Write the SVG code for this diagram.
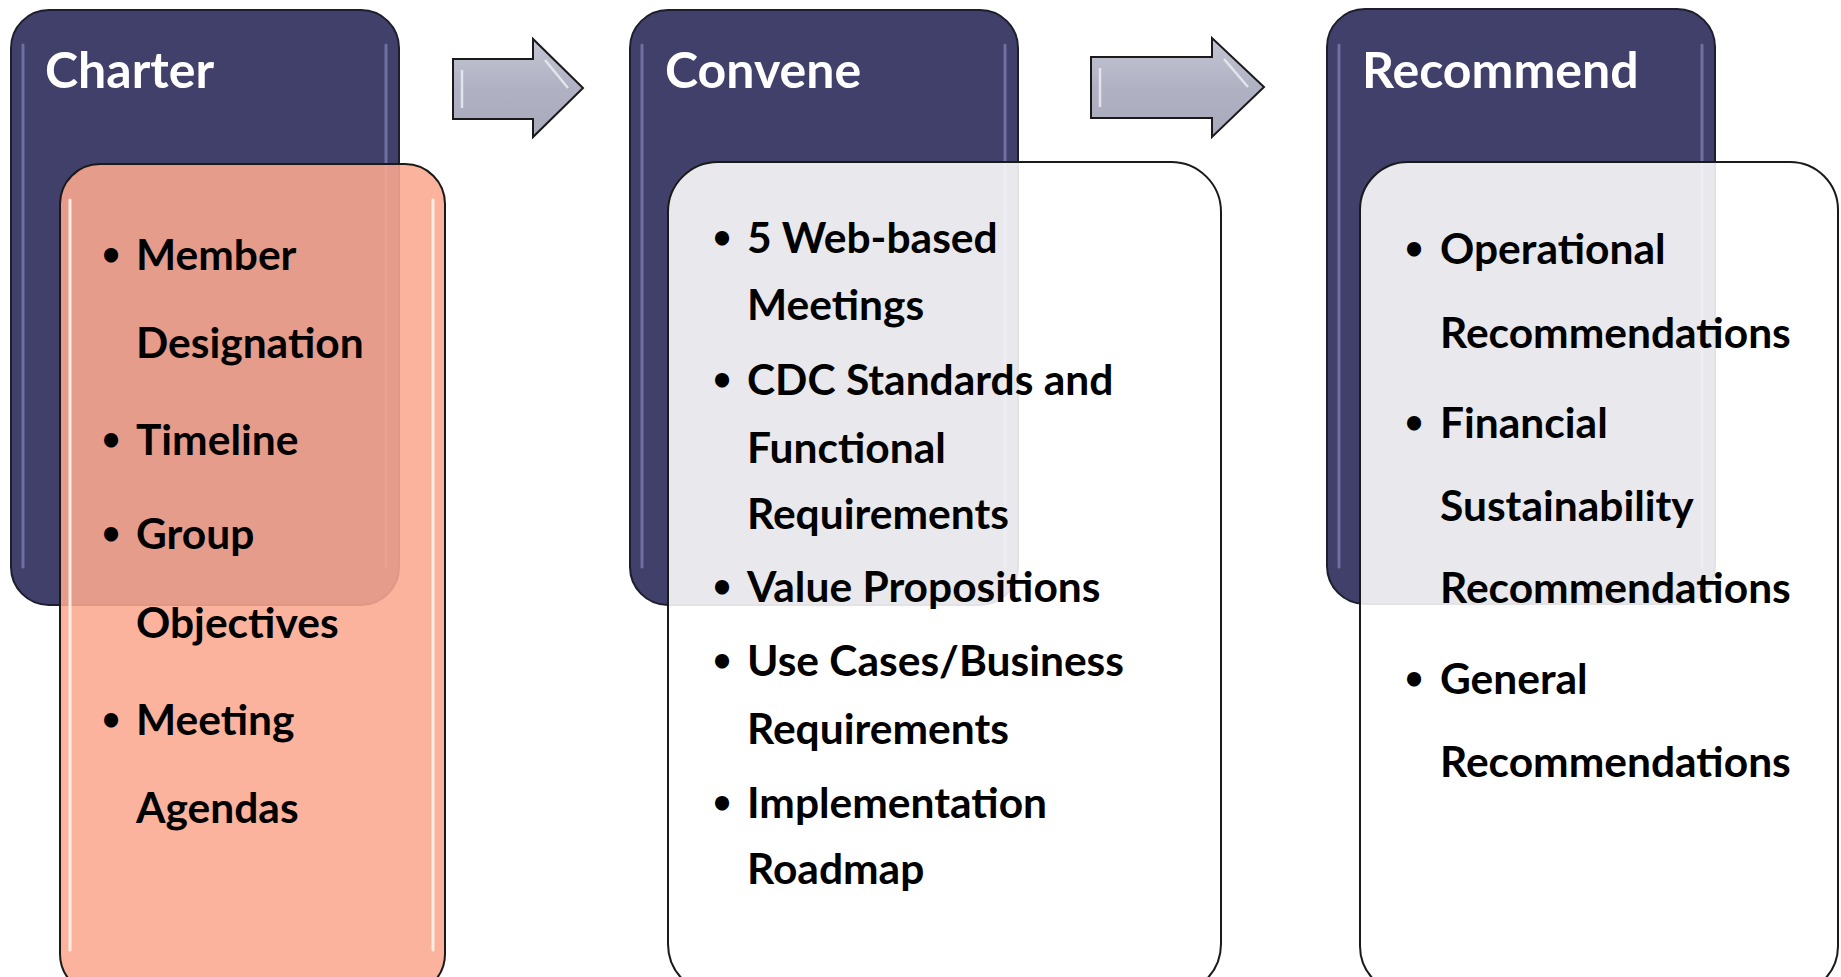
<svg xmlns="http://www.w3.org/2000/svg" width="1841" height="977" viewBox="0 0 1841 977">
<defs>
<linearGradient id="arrowGrad" x1="0" y1="0" x2="0" y2="1">
<stop offset="0" stop-color="#C4C5D3"/>
<stop offset="0.5" stop-color="#B0B1C3"/>
<stop offset="1" stop-color="#A8A9BB"/>
</linearGradient>
<style>
.dark{fill:#40406A;stroke:#1E1E2E;stroke-width:2}
.hl-dark{stroke:#6F6FA0;stroke-width:3;fill:none;stroke-linecap:round}
.salmon{fill:#FCA88F;fill-opacity:0.88;stroke:#1A1A1A;stroke-width:2}
.hl-salmon{stroke:#FFF3EC;stroke-width:3;fill:none;stroke-linecap:round;opacity:0.9}
.grey{fill:#FFFFFF;fill-opacity:0.88;stroke:#1A1A1A;stroke-width:2}
.title{font-family:Lato,"Open Sans",sans-serif;font-weight:bold;font-size:50px;fill:#FFFFFF}
.item{font-family:Lato,"Open Sans",sans-serif;font-weight:bold;font-size:42.5px;fill:#000000}
.bul{font-family:"DejaVu Sans",sans-serif;font-weight:bold;font-size:40px;fill:#000000;text-anchor:middle}
.arrow{fill:url(#arrowGrad);stroke:#1A1A1A;stroke-width:2;stroke-linejoin:miter}
.arrow-hl{fill:none;stroke:#E8E9F0;stroke-width:2.5;opacity:0.9}
</style>
</defs>
<rect width="1841" height="977" fill="#FFFFFF"/>

<g id="charter-header">
<rect class="dark" x="11" y="10" width="388" height="595" rx="38" ry="38"/>
<path class="hl-dark" d="M23 45 V567"/>
<path class="hl-dark" d="M386 45 V567"/>
<text class="title" x="45" y="88">Charter</text>
</g>
<g id="charter-detail">
<rect class="salmon" x="60" y="164" width="385" height="830" rx="40" ry="40"/>
<path class="hl-salmon" d="M70 200 V950"/>
<path class="hl-salmon" d="M433 200 V950"/>
<text class="bul" x="111" y="270">•</text>
<text class="item" x="136" y="270">Member</text>
<text class="item" x="136" y="358">Designation</text>
<text class="bul" x="111" y="455">•</text>
<text class="item" x="136" y="455">Timeline</text>
<text class="bul" x="111" y="549">•</text>
<text class="item" x="136" y="549">Group</text>
<text class="item" x="136" y="638">Objectives</text>
<text class="bul" x="111" y="735">•</text>
<text class="item" x="136" y="735">Meeting</text>
<text class="item" x="136" y="823">Agendas</text>
</g>

<g id="convene-header">
<rect class="dark" x="630" y="10" width="388" height="595" rx="38" ry="38"/>
<path class="hl-dark" d="M642 45 V567"/>
<path class="hl-dark" d="M1005 45 V567"/>
<text class="title" x="665" y="88">Convene</text>
</g>
<g id="convene-detail">
<rect class="grey" x="668" y="162" width="553" height="832" rx="50" ry="50"/>
<text class="bul" x="722" y="253">•</text>
<text class="item" x="747" y="253">5 Web-based</text>
<text class="item" x="747" y="320">Meetings</text>
<text class="bul" x="722" y="395">•</text>
<text class="item" x="747" y="395">CDC Standards and</text>
<text class="item" x="747" y="463">Functional</text>
<text class="item" x="747" y="529">Requirements</text>
<text class="bul" x="722" y="602">•</text>
<text class="item" x="747" y="602">Value Propositions</text>
<text class="bul" x="722" y="676">•</text>
<text class="item" x="747" y="676">Use Cases/Business</text>
<text class="item" x="747" y="744">Requirements</text>
<text class="bul" x="722" y="818">•</text>
<text class="item" x="747" y="818">Implementation</text>
<text class="item" x="747" y="884">Roadmap</text>
</g>

<g id="recommend-header">
<rect class="dark" x="1327" y="9" width="388" height="595" rx="38" ry="38"/>
<path class="hl-dark" d="M1339 45 V567"/>
<path class="hl-dark" d="M1702 45 V567"/>
<text class="title" x="1362" y="88">Recommend</text>
</g>
<g id="recommend-detail">
<rect class="grey" x="1360" y="162" width="478" height="832" rx="48" ry="48"/>
<text class="bul" x="1414" y="264">•</text>
<text class="item" x="1440" y="264">Operational</text>
<text class="item" x="1440" y="348">Recommendations</text>
<text class="bul" x="1414" y="438">•</text>
<text class="item" x="1440" y="438">Financial</text>
<text class="item" x="1440" y="521">Sustainability</text>
<text class="item" x="1440" y="603">Recommendations</text>
<text class="bul" x="1414" y="694">•</text>
<text class="item" x="1440" y="694">General</text>
<text class="item" x="1440" y="777">Recommendations</text>
</g>

<g id="connectors">
<g id="arrow-1">
<path class="arrow" d="M453 59 H533 V39 L583 88 L533 137 V119 H453 Z"/>
<path class="arrow-hl" d="M462 70 V108 M545 60 L568 88"/>
</g>
<g id="arrow-2">
<path class="arrow" d="M1091 57 H1212 V38 L1264 87 L1212 137 V118 H1091 Z"/>
<path class="arrow-hl" d="M1100 68 V107 M1224 59 L1248 87"/>
</g>
</g>
</svg>
